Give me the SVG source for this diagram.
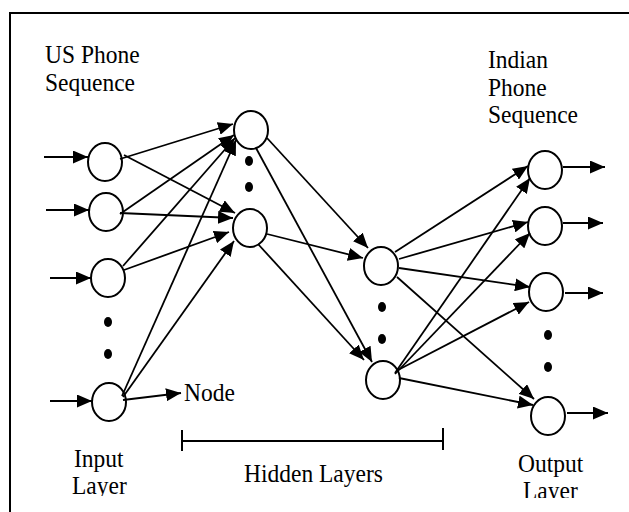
<svg xmlns="http://www.w3.org/2000/svg" width="629" height="512" viewBox="0 0 629 512">
<style>
.bg{fill:#fff}
.frame{fill:none;stroke:#000;stroke-width:2}
.node{fill:#fff;stroke:#000;stroke-width:2}
.dot{fill:#000}
.c line{stroke:#000;stroke-width:1.8;marker-end:url(#ah)}
.br{stroke:#000;stroke-width:2;fill:none}
text{font-family:"Liberation Serif","Times New Roman",serif;font-size:23.5px;fill:#000}
</style>
<defs>
<marker id="ah" markerUnits="userSpaceOnUse" markerWidth="16" markerHeight="13" refX="15" refY="6.5" orient="auto">
<path d="M0,0 L15,6.5 L0,13 z" fill="#000"/>
</marker>
<clipPath id="clipIn"><rect x="0" y="0" width="629" height="496"/></clipPath>
<clipPath id="clipOut"><rect x="0" y="0" width="629" height="498"/></clipPath>
</defs>
<rect class="bg" x="0" y="0" width="629" height="512"/>
<path class="frame" d="M10,512 V13 H629"/>

<g id="labels">
<text transform="translate(45,63) scale(1,1.1)">US Phone</text>
<text transform="translate(45,91) scale(1,1.1)">Sequence</text>
<text transform="translate(488,68) scale(1,1.1)">Indian</text>
<text transform="translate(488,96) scale(1,1.1)">Phone</text>
<text transform="translate(488,123) scale(1,1.1)">Sequence</text>
<text transform="translate(184,401) scale(1,1.1)">Node</text>
<text transform="translate(74,467) scale(1,1.1)">Input</text>
<g clip-path="url(#clipIn)"><text transform="translate(72,494) scale(1,1.1)">Layer</text></g>
<text transform="translate(244,482) scale(1,1.1)">Hidden Layers</text>
<text transform="translate(518,472) scale(1,1.1)">Output</text>
<g clip-path="url(#clipOut)"><text transform="translate(523,499) scale(1,1.1)">Layer</text></g>
</g>

<g id="bracket">
<path class="br" d="M182,441 H443 M182,430 V451 M443,428 V450"/>
</g>

<g id="input-layer">
<g id="i1"><ellipse class="node" cx="105" cy="162" rx="17" ry="19"/></g>
<g id="i2"><ellipse class="node" cx="106" cy="212" rx="17" ry="19"/></g>
<g id="i3"><ellipse class="node" cx="108" cy="278" rx="17" ry="19"/></g>
<g id="i4"><ellipse class="node" cx="109" cy="402" rx="17" ry="19"/></g>
<ellipse class="dot" cx="108" cy="322" rx="4" ry="5"/>
<ellipse class="dot" cx="108" cy="354" rx="4" ry="5"/>
</g>

<g id="hidden-1">
<g id="h1a"><ellipse class="node" cx="251" cy="130" rx="17" ry="19"/></g>
<g id="h1b"><ellipse class="node" cx="250" cy="228" rx="17" ry="19"/></g>
<ellipse class="dot" cx="249" cy="161" rx="4" ry="5"/>
<ellipse class="dot" cx="249" cy="187" rx="4" ry="5"/>
</g>

<g id="hidden-2">
<g id="h2a"><ellipse class="node" cx="381" cy="266" rx="17" ry="19"/></g>
<g id="h2b"><ellipse class="node" cx="383" cy="380" rx="17" ry="19"/></g>
<ellipse class="dot" cx="382" cy="307" rx="4" ry="5"/>
<ellipse class="dot" cx="382" cy="339" rx="4" ry="5"/>
</g>

<g id="output-layer">
<g id="o1"><ellipse class="node" cx="545" cy="170" rx="17" ry="19"/></g>
<g id="o2"><ellipse class="node" cx="545" cy="226" rx="17" ry="19"/></g>
<g id="o3"><ellipse class="node" cx="546" cy="292" rx="17" ry="19"/></g>
<g id="o4"><ellipse class="node" cx="548" cy="416" rx="17" ry="19"/></g>
<ellipse class="dot" cx="548" cy="335" rx="4" ry="5"/>
<ellipse class="dot" cx="548" cy="367" rx="4" ry="5"/>
</g>

<g id="connectors" class="c">
<line x1="44" y1="157" x2="88" y2="157"/>
<line x1="46" y1="210" x2="89" y2="210"/>
<line x1="50" y1="278" x2="91" y2="278"/>
<line x1="50" y1="401" x2="92" y2="401"/>

<line x1="120" y1="159" x2="233" y2="124"/>
<line x1="124" y1="155" x2="235" y2="213"/>
<line x1="120" y1="214" x2="234" y2="135"/>
<line x1="120" y1="213" x2="233" y2="218"/>
<line x1="123" y1="266" x2="235" y2="138"/>
<line x1="124" y1="270" x2="229" y2="232"/>
<line x1="122" y1="396" x2="236" y2="140"/>
<line x1="123" y1="397" x2="234" y2="241"/>
<line x1="123" y1="400" x2="181" y2="393"/>

<line x1="267" y1="138" x2="368" y2="248"/>
<line x1="256" y1="148" x2="372" y2="362"/>
<line x1="267" y1="234" x2="363" y2="258"/>
<line x1="258" y1="244" x2="364" y2="360"/>

<line x1="395" y1="252" x2="528" y2="166"/>
<line x1="399" y1="259" x2="528" y2="222"/>
<line x1="399" y1="268" x2="530" y2="287"/>
<line x1="397" y1="277" x2="534" y2="399"/>
<line x1="395" y1="373" x2="530" y2="178"/>
<line x1="395" y1="374" x2="530" y2="233"/>
<line x1="398" y1="370" x2="529" y2="302"/>
<line x1="399" y1="378" x2="533" y2="405"/>

<line x1="563" y1="167" x2="605" y2="167"/>
<line x1="563" y1="223" x2="603" y2="223"/>
<line x1="565" y1="293" x2="603" y2="293"/>
<line x1="567" y1="413" x2="608" y2="413"/>
</g>
</svg>
